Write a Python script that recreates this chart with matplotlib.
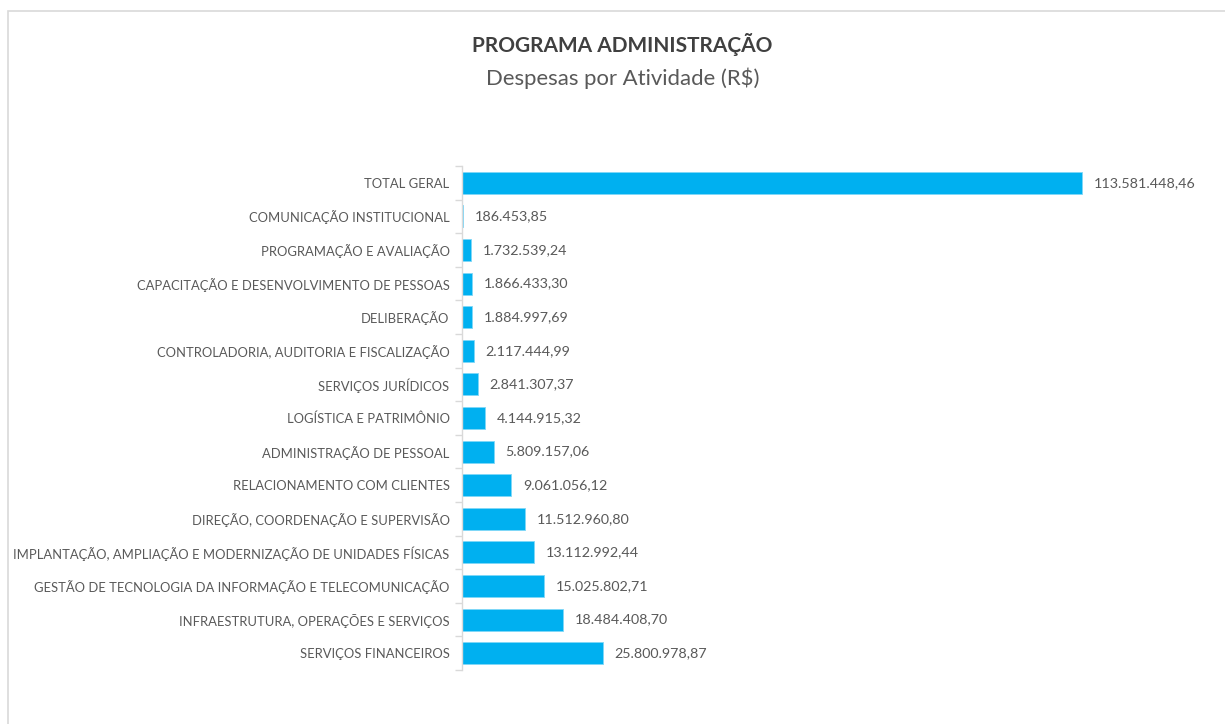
import matplotlib.pyplot as plt
import matplotlib
import numpy as np
from matplotlib.patches import Rectangle

matplotlib.rcParams['font.family'] = ['Lato', 'DejaVu Sans']

# atividades (de cima para baixo) e despesas em R$
atividades = [
    'TOTAL GERAL',
    'COMUNICAÇÃO INSTITUCIONAL',
    'PROGRAMAÇÃO E AVALIAÇÃO',
    'CAPACITAÇÃO E DESENVOLVIMENTO DE PESSOAS',
    'DELIBERAÇÃO',
    'CONTROLADORIA, AUDITORIA E FISCALIZAÇÃO',
    'SERVIÇOS JURÍDICOS',
    'LOGÍSTICA E PATRIMÔNIO',
    'ADMINISTRAÇÃO DE PESSOAL',
    'RELACIONAMENTO COM CLIENTES',
    'DIREÇÃO, COORDENAÇÃO E SUPERVISÃO',
    'IMPLANTAÇÃO, AMPLIAÇÃO E MODERNIZAÇÃO DE UNIDADES FÍSICAS',
    'GESTÃO DE TECNOLOGIA DA INFORMAÇÃO E TELECOMUNICAÇÃO',
    'INFRAESTRUTURA, OPERAÇÕES E SERVIÇOS',
    'SERVIÇOS FINANCEIROS',
]
despesas = [
    113581448.46,
    186453.85,
    1732539.24,
    1866433.30,
    1884997.69,
    2117444.99,
    2841307.37,
    4144915.32,
    5809157.06,
    9061056.12,
    11512960.80,
    13112992.44,
    15025802.71,
    18484408.70,
    25800978.87,
]


def fmt_br(v):
    s = f'{v:,.2f}'
    return s.replace(',', '#').replace('.', ',').replace('#', '.')


W, H = 1225, 724
fig = plt.figure(figsize=(W / 100, H / 100), dpi=100)

# moldura do gráfico (apenas topo e esquerda visíveis)
fig.patches.append(Rectangle((8 / W, -0.2), 1.2, 1.2 - 11 / H, transform=fig.transFigure,
                             fill=False, edgecolor='#D9D9D9', linewidth=1.2))

ax = fig.add_axes([462 / W, 1 - 670 / H, (1200 - 462) / W, 504 / H])

y = np.arange(len(atividades))
ax.barh(y, despesas, height=0.66, color='#00B0F0', edgecolor='#7FD7F7', linewidth=0.6)
ax.set_ylim(len(atividades) - 0.5, -0.5)
xmax = 113581448.46 * 738 / 620
ax.set_xlim(0, xmax)

for yi, v in zip(y, despesas):
    ax.text(v + xmax * 0.016, yi, fmt_br(v), va='center', ha='left',
            fontsize=10.3, color='#595959')

ax.set_yticks(y)
ax.set_yticklabels(atividades, fontsize=9.4, color='#595959')
ax.set_yticks(np.arange(-0.5, len(atividades), 1), minor=True)
ax.tick_params(axis='y', which='major', length=0, pad=9)
ax.tick_params(axis='y', which='minor', length=5, color='#D9D9D9', width=1)
ax.set_xticks([])
for s in ['top', 'right', 'bottom']:
    ax.spines[s].set_visible(False)
ax.spines['left'].set_color('#D9D9D9')
ax.spines['left'].set_linewidth(1)

fig.text(622 / W, 1 - 45 / H, 'PROGRAMA ADMINISTRAÇÃO', ha='center', va='center',
         fontsize=15, fontweight='bold', color='#404040')
fig.text(623 / W, 1 - 78 / H, 'Despesas por Atividade (R$)', ha='center', va='center',
         fontsize=15.9, color='#595959')

fig.savefig('out.png', dpi=100)
